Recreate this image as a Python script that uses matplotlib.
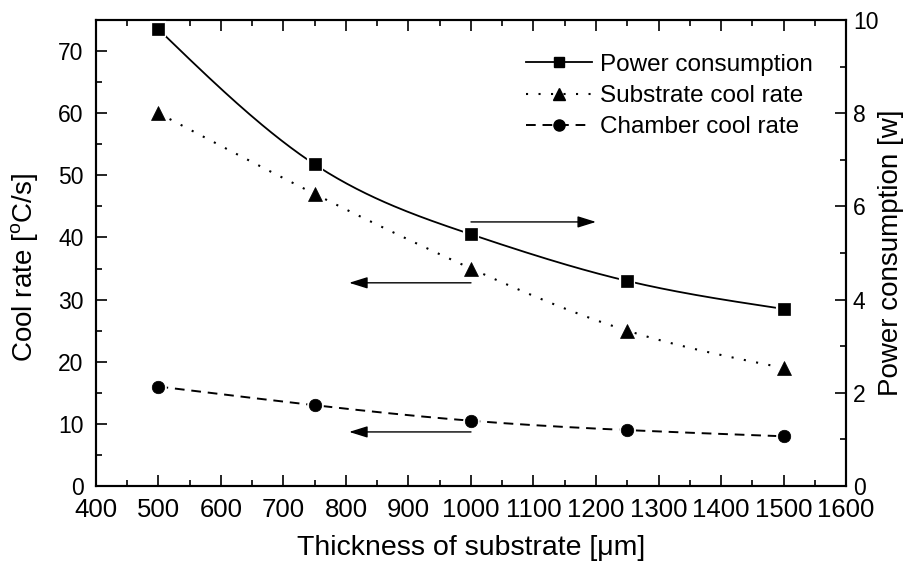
import numpy as np
import matplotlib
matplotlib.use("Agg")
import matplotlib.pyplot as plt
from matplotlib.ticker import MultipleLocator
from matplotlib.lines import Line2D

plt.rcParams['font.family'] = ['Liberation Sans', 'DejaVu Sans']
plt.rcParams['mathtext.fontset'] = 'custom'
plt.rcParams['mathtext.rm'] = 'Liberation Sans'
plt.rcParams['mathtext.it'] = 'Liberation Sans:italic'

thickness = [500, 750, 1000, 1250, 1500]
power_w = [9.8, 6.9, 5.4, 4.4, 3.8]
substrate_rate = [60, 47, 35, 25, 19]
chamber_rate = [16, 13, 10.5, 9, 8]


def smooth(x, y, n=200):
    """Natural cubic spline through the points, for drawing the connecting curve."""
    x = np.asarray(x, float)
    y = np.asarray(y, float)
    k = len(x)
    h = np.diff(x)
    A = np.zeros((k, k))
    b = np.zeros(k)
    A[0, 0] = A[-1, -1] = 1
    for i in range(1, k - 1):
        A[i, i - 1] = h[i - 1]
        A[i, i] = 2 * (h[i - 1] + h[i])
        A[i, i + 1] = h[i]
        b[i] = 6 * ((y[i + 1] - y[i]) / h[i] - (y[i] - y[i - 1]) / h[i - 1])
    M = np.linalg.solve(A, b)
    xs = np.linspace(x[0], x[-1], n)
    idx = np.clip(np.searchsorted(x, xs) - 1, 0, k - 2)
    x0, x1 = x[idx], x[idx + 1]
    hh = x1 - x0
    t0, t1 = x1 - xs, xs - x0
    ys = (M[idx] * t0 ** 3 + M[idx + 1] * t1 ** 3) / (6 * hh) \
        + (y[idx] / hh - M[idx] * hh / 6) * t0 \
        + (y[idx + 1] / hh - M[idx + 1] * hh / 6) * t1
    return xs, ys


def series(axis, x, y, marker, size, ls, lw):
    xs, ys = smooth(x, y)
    axis.plot(xs, ys, color='black', lw=lw, ls=ls, zorder=2)
    # white halo leaves a small gap between curve and marker
    axis.plot(x, y, ls='none', marker=marker, ms=size, mfc='black',
              mec='white', mew=3, zorder=3)
    axis.plot(x, y, ls='none', marker=marker, ms=size, mfc='black',
              mec='black', mew=0.5, zorder=4)


fig = plt.figure(figsize=(9.09, 5.70), dpi=100)
ax = fig.add_axes([0.1056, 0.1474, 0.8251, 0.8175])
ax2 = ax.twinx()

dot_style = (0, (1, 5))
dash_style = (0, (5, 3.5))

series(ax, thickness, substrate_rate, '^', 10, dot_style, 1.5)
series(ax, thickness, chamber_rate, 'o', 9, dash_style, 1.4)
series(ax2, thickness, power_w, 's', 8, '-', 1.3)

# arrows indicating which axis each curve belongs to
arrow = dict(arrowstyle='-|>,head_length=0.8,head_width=0.25', color='black',
             lw=1.0, mutation_scale=14, shrinkA=0, shrinkB=0)
ax.annotate('', xy=(1200, 42.5), xytext=(1000, 42.5), arrowprops=arrow)
ax.annotate('', xy=(805, 32.7), xytext=(1000, 32.7), arrowprops=arrow)
ax.annotate('', xy=(805, 8.7), xytext=(1000, 8.7), arrowprops=arrow)

ax.set_xlim(400, 1600)
ax.set_ylim(0, 75)
ax2.set_ylim(0, 10)
ax.xaxis.set_major_locator(MultipleLocator(100))
ax.xaxis.set_minor_locator(MultipleLocator(50))
ax.yaxis.set_major_locator(MultipleLocator(10))
ax.yaxis.set_minor_locator(MultipleLocator(5))
ax2.yaxis.set_major_locator(MultipleLocator(2))
ax2.yaxis.set_minor_locator(MultipleLocator(1))

for a in (ax, ax2):
    a.tick_params(which='both', direction='in', width=1.2)
    a.tick_params(which='major', length=8)
    a.tick_params(which='minor', length=4)
    for side in a.spines.values():
        side.set_linewidth(1.5)
ax.tick_params(which='both', top=True)
ax.tick_params(axis='x', labelsize=18.5, pad=9)
ax.tick_params(axis='y', labelsize=16.5, pad=9)
ax2.tick_params(axis='y', labelsize=16.5, pad=5)

ax.set_xlabel('Thickness of substrate [μm]', fontsize=20.5, labelpad=9)
ax.set_ylabel(r'Cool rate [$^{\rm o}$C/s]', fontsize=20)
ax.yaxis.set_label_coords(-0.075, 0.47)
ax2.set_ylabel('Power consumption [w]', fontsize=20)
ax2.yaxis.set_label_coords(1.043, 0.5)

# legend combining all three series
handles = [
    Line2D([], [], color='black', lw=1.3, marker='s', ms=7, mfc='black', mec='black'),
    Line2D([], [], color='black', lw=1.5, ls=dot_style, marker='^', ms=9, mfc='black', mec='black'),
    Line2D([], [], color='black', lw=1.4, ls=dash_style, marker='o', ms=8, mfc='black', mec='black'),
]
labels = ['Power consumption', 'Substrate cool rate', 'Chamber cool rate']
ax2.legend(handles, labels, loc='upper right', bbox_to_anchor=(0.962, 0.938),
           frameon=False, fontsize=17.5, handlelength=2.75, handletextpad=0.3,
           labelspacing=0.38, borderpad=0.2, borderaxespad=0)

fig.savefig('out.png', dpi=100)
